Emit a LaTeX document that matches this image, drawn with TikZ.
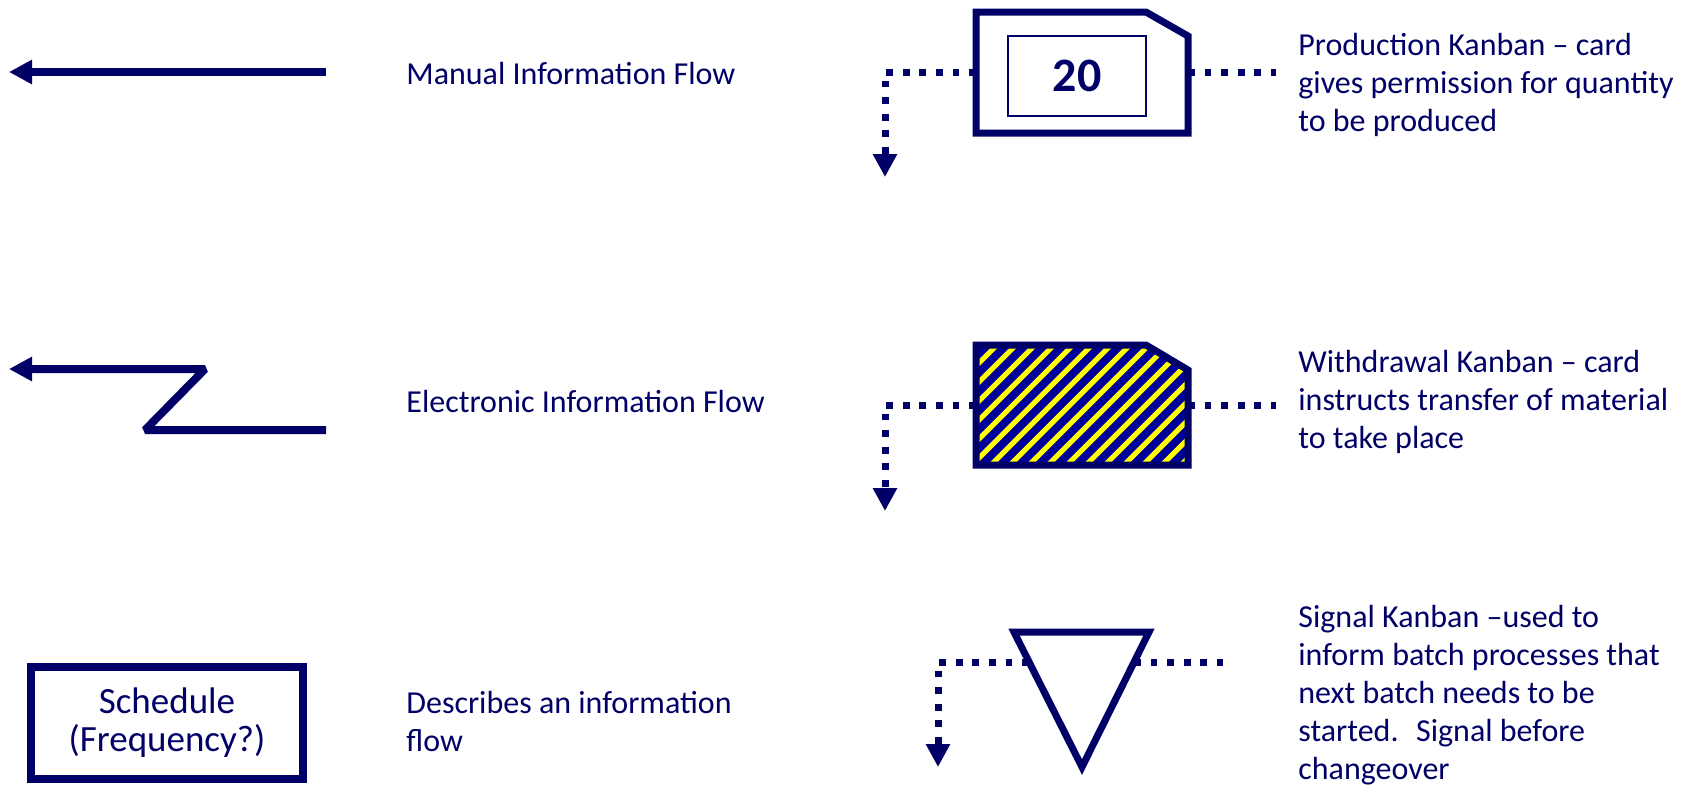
\documentclass[tikz,border=0pt]{standalone}
\usepackage{fontspec}
\setmainfont{Carlito}
\usetikzlibrary{arrows.meta}
\definecolor{navy}{RGB}{0,0,102}
\definecolor{stripeblue}{RGB}{0,0,153}
\definecolor{stripeyellow}{RGB}{255,255,0}
\begin{document}
\begin{tikzpicture}[x=0.5pt,y=-0.5pt,
  infoflow/.style={draw=navy, line width=4pt, line join=bevel, -{Triangle[length=11.5pt,width=11.5pt]}},
  dotline/.style={draw=navy, line width=3.5pt, dash pattern=on 3.4pt off 4.9pt},
  dotarrow/.style={dotline, -{Triangle[length=11.5pt,width=11.5pt]}},
  cardbox/.style={draw=navy, line width=3.5pt, line join=miter},
  lgtext/.style={text=navy, font=\fontsize{16}{19}\selectfont, align=left, anchor=west, inner sep=0pt},
  schedbox/.style={draw=navy, line width=4pt, minimum width=136pt, minimum height=56pt, inner sep=0pt,
    text=navy, font=\fontsize{18.5}{19}\selectfont, align=center},
  qtybox/.style={draw=navy, line width=1pt, minimum width=69pt, minimum height=40pt, inner sep=0pt,
    text=navy, font=\bfseries\fontsize{24}{28}\selectfont}
]
\useasboundingbox (0,0) rectangle (1694,784);

% ---- Manual information flow
\coordinate (m-start) at (326,72);
\coordinate (m-end) at (9,72);
\draw[infoflow] (m-start) -- (m-end);
\node[lgtext] (m-text) at (406,73) {Manual Information Flow};

% ---- Electronic information flow
\coordinate (e-start) at (326,430);
\coordinate (e-k1) at (145,430);
\coordinate (e-k2) at (205,369);
\coordinate (e-end) at (9,369);
\draw[infoflow] (e-start) -- (e-k1) -- (e-k2) -- (e-end);
\node[lgtext] (e-text) at (406,401) {Electronic Information Flow};

% ---- Schedule
\node[schedbox] (sched) at (167,723) {Schedule\\(Frequency?)};
\node[lgtext] (d-text) at (406,721) {Describes an information\\flow};

% ---- Production kanban
\coordinate (p-w) at (976,72);
\coordinate (p-turn) at (885,72);
\coordinate (p-tip) at (885,177);
\coordinate (p-e) at (1188,72);
\coordinate (p-rend) at (1276,72);
\draw[dotarrow] (p-w) -- (p-turn) -- (p-tip);
\draw[dotline] (p-e) -- (p-rend);
\draw[cardbox, fill=white] (976,12) -- (1146,12) -- (1188,36) -- (1188,133) -- (976,133) -- cycle;
\node[qtybox] (p-qty) at (1077,76) {20};
\node[lgtext] (p-text) at (1298,85) {Production Kanban – card\\gives permission for quantity\\to be produced};

% ---- Withdrawal kanban
\coordinate (w-w) at (976,405);
\coordinate (w-turn) at (885,405);
\coordinate (w-tip) at (885,511);
\coordinate (w-e) at (1188,405);
\coordinate (w-rend) at (1276,405);
\draw[dotarrow] (w-w) -- (w-turn) -- (w-tip);
\draw[dotline] (w-e) -- (w-rend);
\begin{scope}
  \clip (976,345) -- (1146,345) -- (1188,370) -- (1188,465) -- (976,465) -- cycle;
  \fill[stripeblue] (960,330) rectangle (1200,480);
  \foreach \i in {0,...,20} \draw[stripeyellow, line width=2.5pt] ({848+19*\i},475) -- ++(140,-140);
\end{scope}
\draw[cardbox] (976,345) -- (1146,345) -- (1188,370) -- (1188,465) -- (976,465) -- cycle;
\node[lgtext] (w-text) at (1298,402) {Withdrawal Kanban – card\\instructs transfer of material\\to take place};

% ---- Signal kanban
\coordinate (s-w) at (1029,662);
\coordinate (s-turn) at (938,662);
\coordinate (s-tip) at (938,767);
\coordinate (s-e) at (1134,662);
\coordinate (s-rend) at (1223,662);
\draw[dotarrow] (s-w) -- (s-turn) -- (s-tip);
\draw[dotline] (s-e) -- (s-rend);
\draw[cardbox, fill=white] (1014,632) -- (1149,632) -- (1082,767) -- cycle;
\node[lgtext] (s-text) at (1298,695) {Signal Kanban –used to\\inform batch processes that\\next batch needs to be\\started.\hspace{0.55em}Signal before\\changeover};
\end{tikzpicture}
\end{document}
